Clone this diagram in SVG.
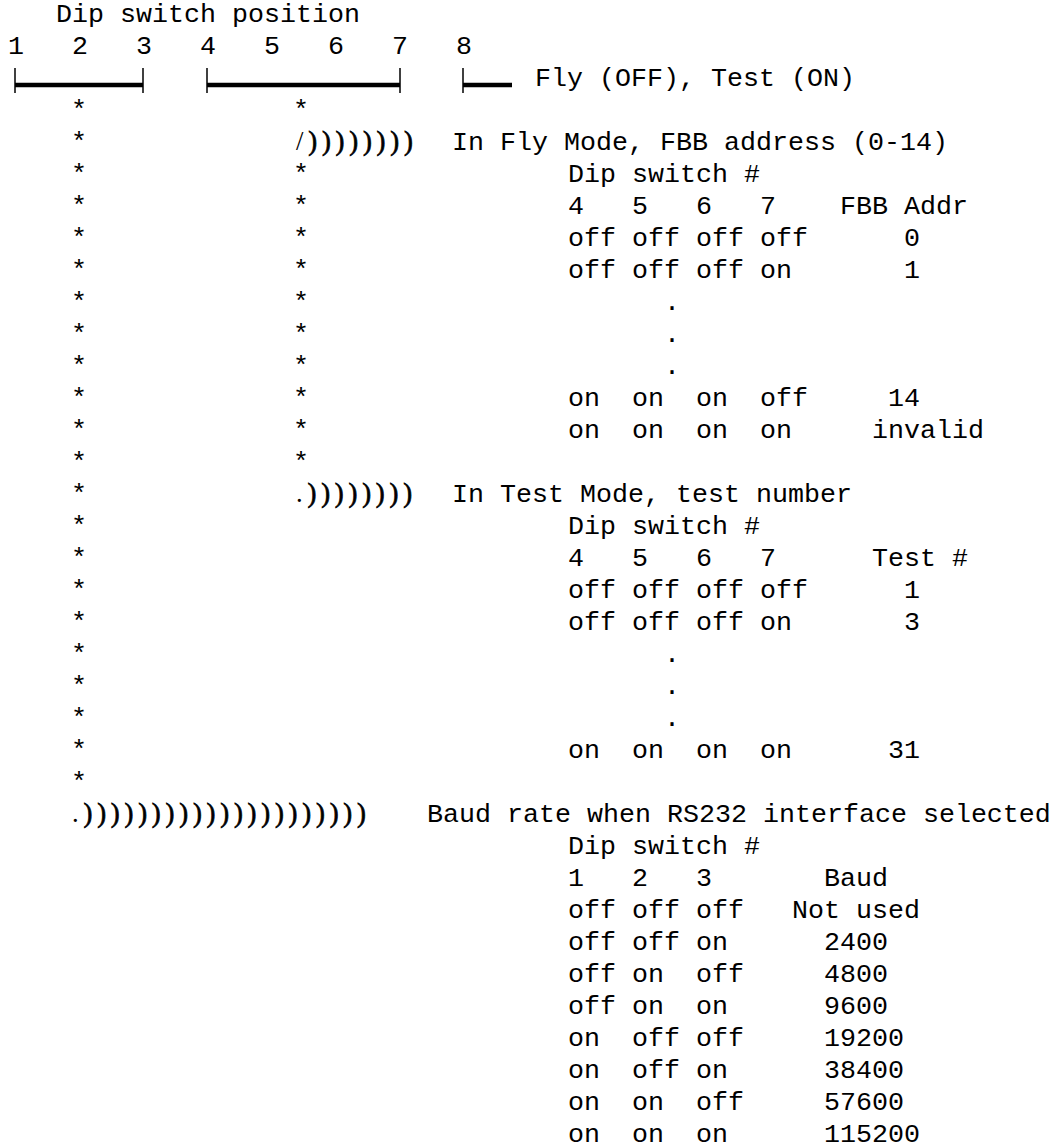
<svg xmlns="http://www.w3.org/2000/svg" width="1057" height="1148" viewBox="0 0 1057 1148">
<style>
  .m { font-family: "Liberation Mono", "Courier New", monospace; font-size: 26.67px; fill: #000; }
  .st { font-family: "Liberation Mono", "Courier New", monospace; font-size: 26.67px; fill: #000; text-anchor: middle; }
  .lead { font-family: "Liberation Serif", "Times New Roman", serif; font-size: 26.67px; fill: #000; letter-spacing: 4.8px; }
  .pp { stroke: #000; stroke-width: 0.7px; }
  .bar { stroke: #000; stroke-width: 4.5; fill: none; }
  .tick { stroke: #000; stroke-width: 1.5; fill: none; }
</style>
<rect width="1057" height="1148" fill="#fff"/>

<g id="header">
  <text class="m" x="56" y="22">Dip switch position</text>
  <text class="m" x="8" y="54">1</text>
  <text class="m" x="72" y="54">2</text>
  <text class="m" x="136" y="54">3</text>
  <text class="m" x="200" y="54">4</text>
  <text class="m" x="264" y="54">5</text>
  <text class="m" x="328" y="54">6</text>
  <text class="m" x="392" y="54">7</text>
  <text class="m" x="456" y="54">8</text>
</g>

<g id="switch-bars">
  <line class="bar" x1="15" y1="85" x2="143" y2="85"/>
  <line class="tick" x1="15" y1="68" x2="15" y2="93"/>
  <line class="tick" x1="143" y1="68" x2="143" y2="93"/>
  <line class="bar" x1="207" y1="85" x2="400" y2="85"/>
  <line class="tick" x1="207" y1="68" x2="207" y2="93"/>
  <line class="tick" x1="400" y1="68" x2="400" y2="93"/>
  <line class="bar" x1="463" y1="85" x2="512" y2="85"/>
  <line class="tick" x1="463" y1="68" x2="463" y2="93"/>
  <text class="m" x="535" y="86">Fly (OFF), Test (ON)</text>
</g>

<g id="connectors">
  <text class="st" x="79" y="118">*</text>
  <text class="st" x="79" y="150">*</text>
  <text class="st" x="79" y="182">*</text>
  <text class="st" x="79" y="214">*</text>
  <text class="st" x="79" y="246">*</text>
  <text class="st" x="79" y="278">*</text>
  <text class="st" x="79" y="310">*</text>
  <text class="st" x="79" y="342">*</text>
  <text class="st" x="79" y="374">*</text>
  <text class="st" x="79" y="406">*</text>
  <text class="st" x="79" y="438">*</text>
  <text class="st" x="79" y="470">*</text>
  <text class="st" x="79" y="502">*</text>
  <text class="st" x="79" y="534">*</text>
  <text class="st" x="79" y="566">*</text>
  <text class="st" x="79" y="598">*</text>
  <text class="st" x="79" y="630">*</text>
  <text class="st" x="79" y="662">*</text>
  <text class="st" x="79" y="694">*</text>
  <text class="st" x="79" y="726">*</text>
  <text class="st" x="79" y="758">*</text>
  <text class="st" x="79" y="790">*</text>

  <text class="st" x="301" y="118">*</text>
  <text class="st" x="301" y="182">*</text>
  <text class="st" x="301" y="214">*</text>
  <text class="st" x="301" y="246">*</text>
  <text class="st" x="301" y="278">*</text>
  <text class="st" x="301" y="310">*</text>
  <text class="st" x="301" y="342">*</text>
  <text class="st" x="301" y="374">*</text>
  <text class="st" x="301" y="406">*</text>
  <text class="st" x="301" y="438">*</text>
  <text class="st" x="301" y="470">*</text>

  <text class="lead" x="296" y="150">/<tspan class="pp">))))))))</tspan></text>
  <text class="lead" x="296" y="502">.<tspan class="pp">))))))))</tspan></text>
  <text class="lead" x="72" y="822">.<tspan class="pp">)))))))))))))))))))))</tspan></text>
</g>

<g id="fly-mode-table">
  <text class="m" x="452" y="150">In Fly Mode, FBB address (0-14)</text>
  <text class="m" x="568" y="182">Dip switch #</text>
  <text class="m" x="568" y="214">4</text>
  <text class="m" x="632" y="214">5</text>
  <text class="m" x="696" y="214">6</text>
  <text class="m" x="760" y="214">7</text>
  <text class="m" x="840" y="214">FBB Addr</text>
  <text class="m" x="568" y="246">off</text>
  <text class="m" x="632" y="246">off</text>
  <text class="m" x="696" y="246">off</text>
  <text class="m" x="760" y="246">off</text>
  <text class="m" x="904" y="246">0</text>
  <text class="m" x="568" y="278">off</text>
  <text class="m" x="632" y="278">off</text>
  <text class="m" x="696" y="278">off</text>
  <text class="m" x="760" y="278">on</text>
  <text class="m" x="904" y="278">1</text>
  <text class="m" x="664" y="310">.</text>
  <text class="m" x="664" y="342">.</text>
  <text class="m" x="664" y="374">.</text>
  <text class="m" x="568" y="406">on</text>
  <text class="m" x="632" y="406">on</text>
  <text class="m" x="696" y="406">on</text>
  <text class="m" x="760" y="406">off</text>
  <text class="m" x="888" y="406">14</text>
  <text class="m" x="568" y="438">on</text>
  <text class="m" x="632" y="438">on</text>
  <text class="m" x="696" y="438">on</text>
  <text class="m" x="760" y="438">on</text>
  <text class="m" x="872" y="438">invalid</text>
</g>

<g id="test-mode-table">
  <text class="m" x="452" y="502">In Test Mode, test number</text>
  <text class="m" x="568" y="534">Dip switch #</text>
  <text class="m" x="568" y="566">4</text>
  <text class="m" x="632" y="566">5</text>
  <text class="m" x="696" y="566">6</text>
  <text class="m" x="760" y="566">7</text>
  <text class="m" x="872" y="566">Test #</text>
  <text class="m" x="568" y="598">off</text>
  <text class="m" x="632" y="598">off</text>
  <text class="m" x="696" y="598">off</text>
  <text class="m" x="760" y="598">off</text>
  <text class="m" x="904" y="598">1</text>
  <text class="m" x="568" y="630">off</text>
  <text class="m" x="632" y="630">off</text>
  <text class="m" x="696" y="630">off</text>
  <text class="m" x="760" y="630">on</text>
  <text class="m" x="904" y="630">3</text>
  <text class="m" x="664" y="662">.</text>
  <text class="m" x="664" y="694">.</text>
  <text class="m" x="664" y="726">.</text>
  <text class="m" x="568" y="758">on</text>
  <text class="m" x="632" y="758">on</text>
  <text class="m" x="696" y="758">on</text>
  <text class="m" x="760" y="758">on</text>
  <text class="m" x="888" y="758">31</text>
</g>

<g id="baud-table">
  <text class="m" x="427" y="822">Baud rate when RS232 interface selected</text>
  <text class="m" x="568" y="854">Dip switch #</text>
  <text class="m" x="568" y="886">1</text>
  <text class="m" x="632" y="886">2</text>
  <text class="m" x="696" y="886">3</text>
  <text class="m" x="824" y="886">Baud</text>
  <text class="m" x="568" y="918">off</text>
  <text class="m" x="632" y="918">off</text>
  <text class="m" x="696" y="918">off</text>
  <text class="m" x="792" y="918">Not used</text>
  <text class="m" x="568" y="950">off</text>
  <text class="m" x="632" y="950">off</text>
  <text class="m" x="696" y="950">on</text>
  <text class="m" x="824" y="950">2400</text>
  <text class="m" x="568" y="982">off</text>
  <text class="m" x="632" y="982">on</text>
  <text class="m" x="696" y="982">off</text>
  <text class="m" x="824" y="982">4800</text>
  <text class="m" x="568" y="1014">off</text>
  <text class="m" x="632" y="1014">on</text>
  <text class="m" x="696" y="1014">on</text>
  <text class="m" x="824" y="1014">9600</text>
  <text class="m" x="568" y="1046">on</text>
  <text class="m" x="632" y="1046">off</text>
  <text class="m" x="696" y="1046">off</text>
  <text class="m" x="824" y="1046">19200</text>
  <text class="m" x="568" y="1078">on</text>
  <text class="m" x="632" y="1078">off</text>
  <text class="m" x="696" y="1078">on</text>
  <text class="m" x="824" y="1078">38400</text>
  <text class="m" x="568" y="1110">on</text>
  <text class="m" x="632" y="1110">on</text>
  <text class="m" x="696" y="1110">off</text>
  <text class="m" x="824" y="1110">57600</text>
  <text class="m" x="568" y="1142">on</text>
  <text class="m" x="632" y="1142">on</text>
  <text class="m" x="696" y="1142">on</text>
  <text class="m" x="824" y="1142">115200</text>
</g>
</svg>
